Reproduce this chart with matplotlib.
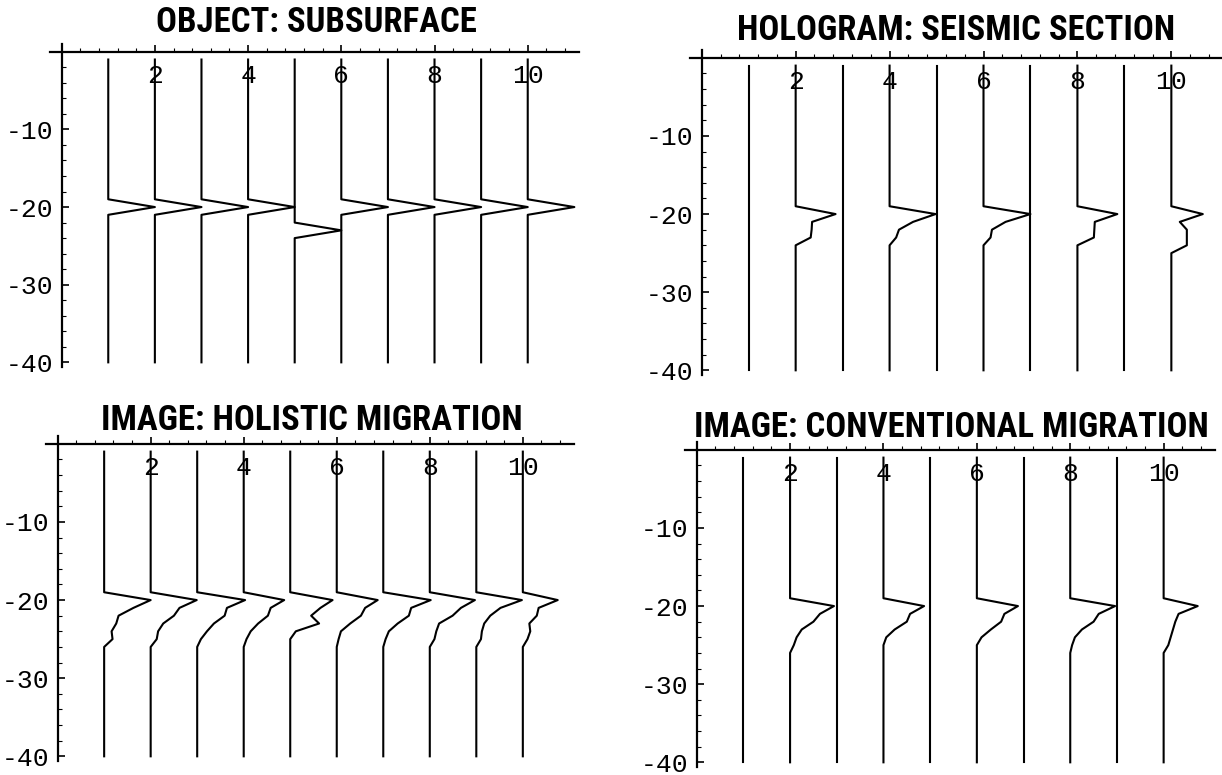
import numpy as np
import matplotlib.pyplot as plt
from matplotlib import font_manager

plt.rcParams['font.family'] = ['Liberation Mono', 'DejaVu Sans Mono']
plt.rcParams['axes.unicode_minus'] = False

# depth samples of every trace, and the window where the events sit
depths = np.arange(-1, -41, -1)
event_depths = np.arange(-19, -27, -1)   # -19 .. -26
positions = np.arange(1, 11)

titles = ["OBJECT: SUBSURFACE", "HOLOGRAM: SEISMIC SECTION",
          "IMAGE: HOLISTIC MIGRATION", "IMAGE: CONVENTIONAL MIGRATION"]

# amplitudes at event_depths, one row per trace position 1..10
object_amp = [
    [0, 1, 0, 0, 0, 0, 0, 0],
    [0, 1, 0, 0, 0, 0, 0, 0],
    [0, 1, 0, 0, 0, 0, 0, 0],
    [0, 1, 0, 0, 0, 0, 0, 0],
    [0, 0, 0, 0, 1, 0, 0, 0],
    [0, 1, 0, 0, 0, 0, 0, 0],
    [0, 1, 0, 0, 0, 0, 0, 0],
    [0, 1, 0, 0, 0, 0, 0, 0],
    [0, 1, 0, 0, 0, 0, 0, 0],
    [0, 1, 0, 0, 0, 0, 0, 0],
]
hologram_amp = [
    [0, 0, 0, 0, 0, 0, 0, 0],
    [0, 0.85, 0.35, 0.34, 0.32, 0, 0, 0],
    [0, 0, 0, 0, 0, 0, 0, 0],
    [0, 0.98, 0.50, 0.20, 0.14, 0, 0, 0],
    [0, 0, 0, 0, 0, 0, 0, 0],
    [0, 1.00, 0.47, 0.18, 0.15, 0, 0, 0],
    [0, 0, 0, 0, 0, 0, 0, 0],
    [0, 0.85, 0.37, 0.36, 0.35, 0, 0, 0],
    [0, 0, 0, 0, 0, 0, 0, 0],
    [0, 0.67, 0.18, 0.33, 0.33, 0.33, 0, 0],
]
holistic_amp = [
    [0, 1.00, 0.63, 0.31, 0.26, 0.16, 0.18, 0],
    [0, 0.99, 0.62, 0.50, 0.27, 0.16, 0.13, 0],
    [0, 1.03, 0.64, 0.59, 0.36, 0.21, 0.08, 0],
    [0, 0.87, 0.58, 0.52, 0.31, 0.15, 0.06, 0],
    [0, 0.91, 0.65, 0.45, 0.62, 0.12, 0, 0],
    [0, 0.88, 0.61, 0.52, 0.29, 0.09, 0.04, 0],
    [0, 1.02, 0.60, 0.55, 0.31, 0.12, 0.05, 0],
    [0, 0.97, 0.67, 0.49, 0.20, 0.14, 0.10, 0],
    [0, 0.98, 0.52, 0.30, 0.17, 0.12, 0.10, 0],
    [0, 0.75, 0.34, 0.30, 0.14, 0.16, 0.10, 0],
]
conventional_amp = [
    [0, 0, 0, 0, 0, 0, 0, 0],
    [0, 0.94, 0.64, 0.50, 0.25, 0.14, 0.08, 0],
    [0, 0, 0, 0, 0, 0, 0, 0],
    [0, 0.87, 0.57, 0.50, 0.24, 0.06, 0, 0],
    [0, 0, 0, 0, 0, 0, 0, 0],
    [0, 0.88, 0.59, 0.52, 0.30, 0.10, 0, 0],
    [0, 0, 0, 0, 0, 0, 0, 0],
    [0, 0.96, 0.61, 0.50, 0.25, 0.10, 0.04, 0],
    [0, 0, 0, 0, 0, 0, 0, 0],
    [0, 0.73, 0.32, 0.25, 0.20, 0.15, 0.10, 0],
]
panels = [object_amp, hologram_amp, holistic_amp, conventional_amp]


def has_font(name):
    try:
        font_manager.findfont(name, fallback_to_default=False)
        return True
    except ValueError:
        return False


# condensed bold title face if one is around, else plain bold at a smaller size
title_font, title_size = 'Liberation Sans', 20.3
for name in ['Liberation Sans Narrow', 'Roboto Condensed', 'DejaVu Sans Condensed']:
    if has_font(name):
        title_font, title_size = name, 25
        break

W, H = 1222, 775
# axes boxes in pixels: left, top, width, height ; title centres in pixels
boxes = [(50, 44, 529, 323), (690, 50, 533, 325), (46, 436, 528, 325), (685, 442, 530, 325)]
title_pos = [(316, 23), (956, 31), (312, 421), (951, 427)]

fig = plt.figure(figsize=(W / 100, H / 100), dpi=100)

for k in range(4):
    l, t, w, h = boxes[k]
    ax = fig.add_axes([l / W, 1 - (t + h) / H, w / W, h / H])
    for pos, a in zip(positions, panels[k]):
        amp = np.zeros(len(depths))
        amp[-event_depths - 1] = a
        ax.plot(pos + amp, depths, color='black', lw=1.5)

    ax.set_xlim(-0.25, 11.1)
    ax.set_ylim(-40.6, 1.0)
    ax.spines['bottom'].set_visible(False)
    ax.spines['right'].set_visible(False)
    ax.spines['left'].set_position(('data', 0))
    ax.spines['top'].set_position(('data', 0))
    for s in ['left', 'top']:
        ax.spines[s].set_linewidth(1.6)
    ax.xaxis.set_ticks_position('top')
    ax.yaxis.set_ticks_position('left')
    ax.set_xticks([2, 4, 6, 8, 10])
    ax.set_xticks([v for v in np.arange(0.4, 11.0, 0.4) if abs(v / 2 - round(v / 2)) > 0.01], minor=True)
    ax.set_yticks([-10, -20, -30, -40])
    ax.set_yticks([v for v in range(-2, -41, -2) if v % 10 != 0], minor=True)
    ax.tick_params(axis='x', which='both', direction='out', labeltop=True, labelbottom=False,
                   pad=-31, labelsize=19)
    ax.tick_params(axis='y', which='both', direction='in', pad=6, labelsize=19)
    ax.tick_params(which='major', length=5, width=1.2)
    ax.tick_params(which='minor', length=3, width=0.8)
    ax.patch.set_visible(False)

    fig.text(title_pos[k][0] / W, 1 - title_pos[k][1] / H, titles[k], ha='center', va='center',
             fontsize=title_size, fontweight='bold', family=title_font)

fig.savefig('out.png', dpi=100)
